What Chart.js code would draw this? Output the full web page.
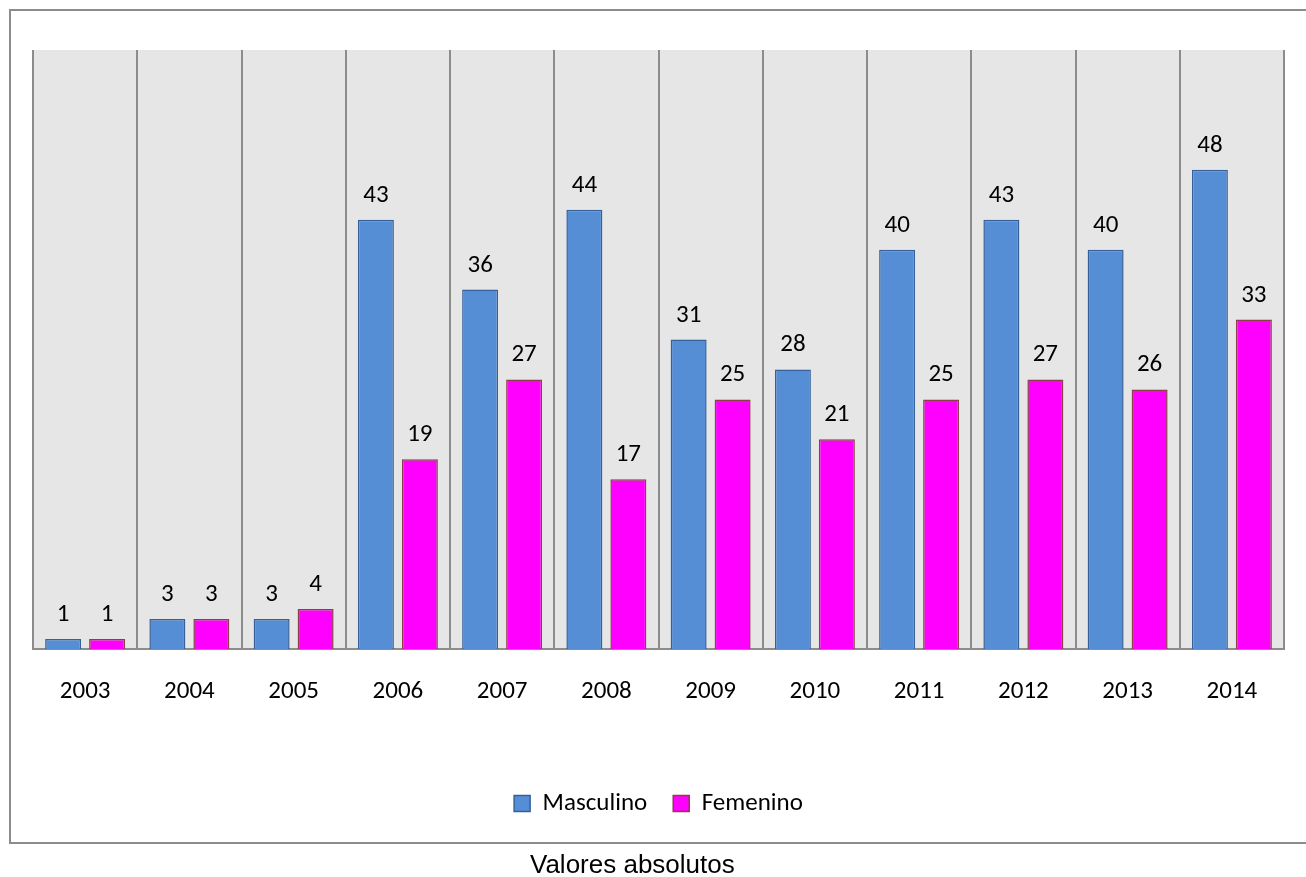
<!DOCTYPE html>
<html>
<head>
<meta charset="utf-8">
<script src="https://cdn.jsdelivr.net/npm/chart.js@4.4.1/dist/chart.umd.min.js"></script>
<style>
  html, body { margin: 0; padding: 0; background: #ffffff; overflow: hidden; }
  #wrap { position: absolute; left: 0; top: 0; width: 1306px; height: 877px; }
  #caption { position: absolute; left: 530px; top: 850px; font-family: "Liberation Sans", Arial, sans-serif; font-size: 26px; line-height: 28px; color: #000; white-space: nowrap; }
</style>
</head>
<body>
<div id="wrap"><canvas id="c" width="1306" height="877"></canvas></div>
<div id="caption">Valores absolutos</div>
<script>
const categories = ["2003","2004","2005","2006","2007","2008","2009","2010","2011","2012","2013","2014"];
const masculino = [1, 3, 3, 43, 36, 44, 31, 28, 40, 43, 40, 48];
const femenino  = [1, 3, 4, 19, 27, 17, 25, 21, 25, 27, 26, 33];
const seriesNames = ["Masculino", "Femenino"];

const FONT = "Carlito, Lato, sans-serif";

const framePlugin = {
  id: 'frame',
  beforeDraw(chart) {
    const ctx = chart.ctx;
    const a = chart.chartArea;
    ctx.save();
    ctx.strokeStyle = '#8c8c8c';
    ctx.lineWidth = 2;
    ctx.strokeRect(10, 10, 1330, 833);
    ctx.fillStyle = '#e6e6e6';
    ctx.fillRect(a.left, a.top, a.right - a.left, a.bottom - a.top);
    ctx.restore();
  }
};

const labelPlugin = {
  id: 'valueLabels',
  afterDatasetsDraw(chart) {
    const ctx = chart.ctx;
    ctx.save();
    ctx.font = "25px " + FONT;
    ctx.fillStyle = '#000';
    ctx.textAlign = 'center';
    ctx.textBaseline = 'alphabetic';
    chart.data.datasets.forEach((ds, di) => {
      const meta = chart.getDatasetMeta(di);
      meta.data.forEach((el, i) => {
        ctx.fillText(String(ds.data[i]), el.x, el.y - 18);
      });
    });
    ctx.restore();
  }
};

new Chart(document.getElementById('c'), {
  type: 'bar',
  data: {
    labels: categories,
    datasets: [
      { label: seriesNames[0], data: masculino, backgroundColor: '#558ed5', borderColor: '#36609a', borderWidth: 1.5,
        categoryPercentage: 0.844, barPercentage: 0.818 },
      { label: seriesNames[1], data: femenino, backgroundColor: '#ff00ff', borderColor: '#8e3b4b', borderWidth: 1.5,
        categoryPercentage: 0.844, barPercentage: 0.818 }
    ]
  },
  options: {
    responsive: false,
    animation: false,
    devicePixelRatio: 1,
    layout: { padding: { top: 50, left: 33, right: 22, bottom: 51 } },
    plugins: {
      legend: {
        position: 'bottom',
        labels: {
          boxWidth: 16, boxHeight: 16, padding: 26,
          color: '#000',
          font: { family: FONT, size: 25 }
        }
      },
      tooltip: { enabled: false },
      title: { display: false }
    },
    scales: {
      x: {
        grid: { display: true, offset: true, color: '#8c8c8c', lineWidth: 2, drawTicks: false },
        border: { display: true, color: '#8c8c8c', width: 2 },
        ticks: { color: '#000', font: { family: FONT, size: 25 }, padding: 27.5, maxRotation: 0 },
        afterFit(scale) { scale.height = 116; }
      },
      y: {
        display: false,
        min: 0, max: 60,
        grid: { display: false }
      }
    }
  },
  plugins: [framePlugin, labelPlugin]
});
</script>
</body>
</html>
